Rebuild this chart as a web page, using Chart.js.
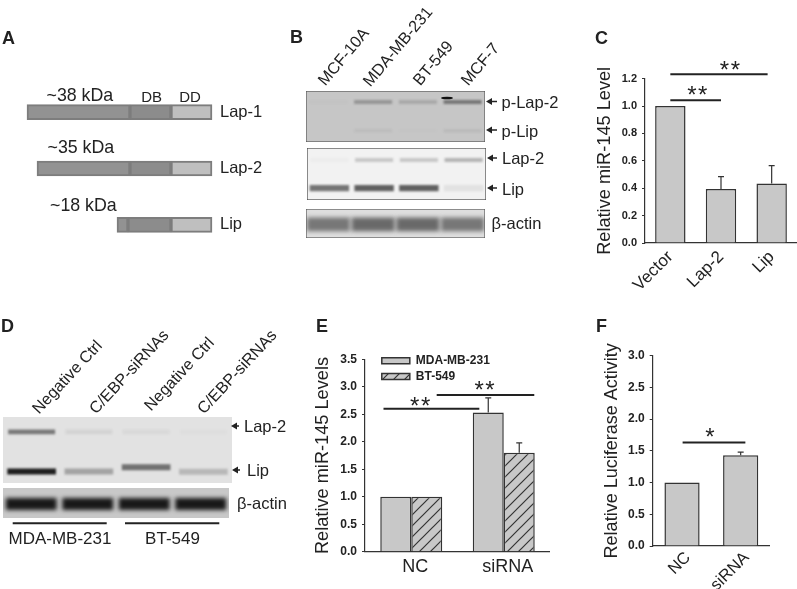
<!DOCTYPE html>
<html>
<head>
<meta charset="utf-8">
<script src="https://cdn.jsdelivr.net/npm/chart.js@4/dist/chart.umd.js"></script>
<style>
html, body { margin: 0; padding: 0; background: #fff; }
#fig { position: relative; width: 797px; height: 589px; overflow: hidden; font-family: "Liberation Sans", Arial, sans-serif; color: #222; }
#fig canvas, #fig svg { position: absolute; }
#fig span { position: absolute; white-space: nowrap; transform: translateY(-50%); }
</style>
</head>
<body>
<div id="fig"></div>
<script>
// panel A, domain boundaries along the protein
const aIsoforms = ['Lap-1', 'Lap-2', 'Lip'];
const aNterm = [[27, 130], [37, 130], [117, 128]];
const aDB = [[130, 171], [130, 171], [128, 171]];
const aDD = [[171, 212], [171, 212], [171, 212]];

// panel B, band intensity per lane and migration position
const bLanes = ['MCF-10A', 'MDA-MB-231', 'BT-549', 'MCF-7'];
const bPLap2 = [0.02, 0.3, 0.18, 0.5];
const bPLip = [0.0, 0.06, 0.01, 0.08];
const bLap2 = [0.03, 0.22, 0.22, 0.32];
const bLip = [0.62, 0.72, 0.72, 0.08];
const bActin = [0.6, 0.68, 0.68, 0.6];

// panel C
const cCategories = ['Vector', 'Lap-2', 'Lip'];
const cValues = [1.0, 0.395, 0.435];
const cErrors = [0, 0.09, 0.13];
const cSigLines = [[0, 1, 1.042], [0, 1.92, 1.232]];
const cStars = [[0.547, 1.103, '**'], [1.19, 1.288, '**']];

// panel D
const dLanes = ['Negative Ctrl', 'C/EBP-siRNAs', 'Negative Ctrl', 'C/EBP-siRNAs'];
const dLap2 = [0.55, 0.07, 0.05, 0.02];
const dLip = [0.95, 0.3, 0.55, 0.2];
const dLipPos = [0.175, 0.175, 0.24, 0.17];
const dActin = [0.95, 0.95, 0.95, 0.95];

// panel E
const eCategories = ['NC', 'siRNA'];
const eMda = [1.0, 2.53];
const eBt = [1.0, 1.8];
const eMdaErrors = [0, 0.27];
const eBtErrors = [0, 0.18];
const eSigLines = [[-0.3, 0.736, 2.6], [0.275, 1.33, 2.85]];
const eStars = [[0.105, 2.72, '**'], [0.8, 3.0, '**']];

// panel F
const fCategories = ['NC', 'siRNA'];
const fValues = [1.0, 1.43];
const fErrors = [0, 0.05];
const fSigLines = [[0.01, 1.08, 1.63]];
const fStars = [[0.49, 1.77, '*']];

const FONT = '"Liberation Sans", Arial, sans-serif';
Chart.defaults.font.family = FONT;
Chart.defaults.color = '#222';
Chart.defaults.animation = false;
Chart.defaults.responsive = false;
Chart.defaults.devicePixelRatio = 1;
Chart.defaults.plugins.legend.display = false;
Chart.defaults.plugins.tooltip.enabled = false;

const fig = document.getElementById('fig');

function addCanvas(left, top, w, h) {
    const c = document.createElement('canvas');
    c.width = w;
    c.height = h;
    c.style.left = left + 'px';
    c.style.top = top + 'px';
    fig.appendChild(c);
    return c;
}

function addText(text, x, y, size, opts) {
    const s = document.createElement('span');
    s.textContent = text;
    s.style.left = x + 'px';
    s.style.top = y + 'px';
    s.style.fontSize = size + 'px';
    if (opts && opts.bold) s.style.fontWeight = 'bold';
    if (opts && opts.center) s.style.transform = 'translate(-50%,-50%)';
    if (opts && opts.angle) {
        s.style.transformOrigin = '0 50%';
        s.style.transform = `translateY(-50%) rotate(${opts.angle}deg)`;
    }
    fig.appendChild(s);
}

// error bars and significance lines, in data units of the chart scales
const annotate = {
    id: 'annotate',
    afterDatasetsDraw(chart, args, opts) {
        const { ctx } = chart;
        const xs = chart.scales.x;
        const ys = chart.scales.y;
        ctx.save();
        ctx.strokeStyle = '#333';
        ctx.lineWidth = 1.2;
        chart.data.datasets.forEach((ds, i) => {
            if (!ds.errors) return;
            chart.getDatasetMeta(i).data.forEach((bar, j) => {
                if (!ds.errors[j]) return;
                const top = ys.getPixelForValue(ds.data[j] + ds.errors[j]);
                ctx.beginPath();
                ctx.moveTo(bar.x, bar.y);
                ctx.lineTo(bar.x, top);
                ctx.moveTo(bar.x - 3, top);
                ctx.lineTo(bar.x + 3, top);
                ctx.stroke();
            });
        });
        ctx.strokeStyle = '#222';
        ctx.lineWidth = 2;
        (opts.lines || []).forEach((l) => {
            const y = ys.getPixelForValue(l[2]);
            ctx.beginPath();
            ctx.moveTo(xs.getPixelForValue(l[0]), y);
            ctx.lineTo(xs.getPixelForValue(l[1]), y);
            ctx.stroke();
        });
        ctx.fillStyle = '#222';
        ctx.textAlign = 'center';
        ctx.textBaseline = 'alphabetic';
        ctx.font = '24px ' + FONT;
        ctx.letterSpacing = '1.5px';
        (opts.stars || []).forEach((s) => {
            ctx.fillText(s[2], xs.getPixelForValue(s[0]), ys.getPixelForValue(s[1]) + 11.5);
        });
        ctx.restore();
    },
};

function barChart(cfg) {
    const { box, area, titleText, maxY, step, rotation, tickFont, labelFont } = cfg;
    const canvas = addCanvas(box[0], box[1], box[2], box[3]);
    return new Chart(canvas, {
        type: 'bar',
        data: { labels: cfg.labels, datasets: cfg.datasets },
        options: {
            layout: { autoPadding: false, padding: { top: area.top - box[1] } },
            plugins: {
                annotate: { lines: cfg.lines, stars: cfg.stars },
                legend: cfg.legend || { display: false },
            },
            scales: {
                x: {
                    grid: { display: false, drawTicks: false },
                    border: { color: '#333', width: 1.2 },
                    ticks: {
                        autoSkip: false,
                        minRotation: rotation,
                        maxRotation: rotation,
                        padding: cfg.xPad,
                        labelOffset: cfg.xOffset || 0,
                        color: '#222',
                        font: { size: labelFont },
                    },
                    afterFit: (s) => { s.height = box[1] + box[3] - area.bottom; },
                },
                y: {
                    min: 0,
                    max: maxY,
                    ticks: {
                        stepSize: step,
                        padding: 5,
                        color: '#222',
                        font: { size: tickFont, weight: 'bold' },
                        callback: (v) => v.toFixed(1),
                    },
                    grid: { drawOnChartArea: false, tickLength: 3, color: '#333' },
                    border: { color: '#333', width: 1.2 },
                    title: {
                        display: true,
                        text: titleText,
                        color: '#222',
                        padding: 0,
                        font: { size: cfg.titleFont },
                    },
                    afterFit: (s) => { s.width = area.left - box[0]; },
                },
            },
        },
        plugins: [annotate].concat(cfg.plugins || []),
    });
}

// western blot strip: bands are floating bars, blurred a little
const blotPaint = {
    id: 'blotPaint',
    beforeDraw(chart, args, opts) {
        const { ctx, chartArea: a } = chart;
        ctx.save();
        ctx.fillStyle = opts.bg;
        ctx.fillRect(a.left, a.top, a.width, a.height);
        ctx.restore();
    },
    beforeDatasetsDraw(chart, args, opts) {
        chart.ctx.save();
        chart.ctx.filter = 'blur(' + opts.blur + 'px)';
    },
    afterDatasetsDraw(chart, args, opts) {
        const { ctx, chartArea: a } = chart;
        ctx.restore();
        if (!opts.frame) return;
        ctx.save();
        ctx.strokeStyle = opts.frame;
        ctx.lineWidth = 1.2;
        ctx.strokeRect(a.left, a.top, a.width, a.height);
        ctx.restore();
    },
};

function band(levels, pos, half, shade, lanePct) {
    return {
        data: levels.map((v, i) => {
            const p = Array.isArray(pos) ? pos[i] : pos;
            return [p - half, p + half];
        }),
        backgroundColor: levels.map((v) => `rgba(${shade},${shade},${shade},${v})`),
        barPercentage: lanePct,
        categoryPercentage: 1,
        grouped: false,
    };
}

function blotChart(cfg) {
    const { box, bg, frame, blur, lanes, bands } = cfg;
    const canvas = addCanvas(box[0], box[1], box[2], box[3]);
    return new Chart(canvas, {
        type: 'bar',
        data: { labels: lanes, datasets: bands },
        options: {
            layout: { autoPadding: false },
            plugins: { blotPaint: { bg, frame, blur } },
            scales: {
                x: { display: false },
                y: { display: false, min: 0, max: 1 },
            },
        },
        plugins: [blotPaint],
    });
}

// hatch for the BT-549 series
function hatchPattern() {
    const n = 11;
    const t = document.createElement('canvas');
    t.width = n;
    t.height = n;
    const g = t.getContext('2d');
    g.fillStyle = '#c8c8c8';
    g.fillRect(0, 0, n, n);
    g.strokeStyle = '#333';
    g.lineWidth = 1.2;
    g.beginPath();
    g.moveTo(-2, n + 2);
    g.lineTo(n + 2, -2);
    g.moveTo(-2, 2);
    g.lineTo(2, -2);
    g.moveTo(n - 2, n + 2);
    g.lineTo(n + 2, n - 2);
    g.stroke();
    return g.createPattern(t, 'repeat');
}

/* ---------- panel A ---------- */
const segment = (data, fill) => ({
    data,
    backgroundColor: fill,
    borderColor: '#7d7d7d',
    borderWidth: 2,
    borderSkipped: false,
    barThickness: 15,
    grouped: false,
});
new Chart(addCanvas(0, 84, 280, 169), {
    type: 'bar',
    data: {
        labels: aIsoforms,
        datasets: [segment(aNterm, '#929292'), segment(aDB, '#8c8c8c'), segment(aDD, '#bfbfbf')],
    },
    options: {
        indexAxis: 'y',
        layout: { autoPadding: false },
        scales: {
            x: { display: false, min: 0, max: 215 },
            y: {
                position: 'right',
                grid: { display: false, drawTicks: false },
                border: { display: false },
                ticks: { padding: 5, color: '#222', font: { size: 16.5 } },
                afterFit: (s) => {
                    s.width = 65;
                    s.paddingTop = 0;
                    s.paddingBottom = 0;
                },
            },
        },
    },
});

/* ---------- panel B ---------- */
blotChart({
    box: [306, 91, 179, 51], bg: '#c6c6c6', frame: '#555', blur: 1.2,
    lanes: bLanes,
    bands: [band(bPLap2, 0.785, 0.04, 40, 0.85), band(bPLip, 0.22, 0.03, 40, 0.85)],
});
blotChart({
    box: [307, 148, 179, 52], bg: '#f2f2f2', frame: '#444', blur: 1.2,
    lanes: bLanes,
    bands: [band(bLap2, 0.77, 0.04, 50, 0.85), band(bLip, 0.23, 0.06, 40, 0.88)],
});
blotChart({
    box: [306, 209, 179, 29], bg: '#dedede', frame: '#555', blur: 2,
    lanes: bLanes,
    bands: [band(bActin, 0.47, 0.24, 50, 0.96)],
});

/* ---------- panel C ---------- */
barChart({
    box: [594, 40, 203, 270],
    area: { left: 645, top: 78.7, bottom: 243 },
    labels: cCategories,
    datasets: [{
        data: cValues, errors: cErrors,
        backgroundColor: '#c8c8c8', borderColor: '#333', borderWidth: 1.5,
        barPercentage: 0.6, categoryPercentage: 1,
    }],
    titleText: 'Relative miR-145 Level', titleFont: 18.2,
    maxY: 1.2, step: 0.2, rotation: 45, tickFont: 11, labelFont: 17, xPad: 4,
    lines: cSigLines, stars: cStars,
});

/* ---------- panel D ---------- */
blotChart({
    box: [3, 417, 229, 66], bg: '#e2e2e2', blur: 1.2,
    lanes: dLanes,
    bands: [band(dLap2, 0.775, 0.035, 35, 0.82), band(dLip, dLipPos, 0.045, 20, 0.85)],
});
blotChart({
    box: [3, 488, 226, 30], bg: '#c8c8c8', blur: 2,
    lanes: dLanes,
    bands: [band(dActin, 0.47, 0.2, 15, 0.9)],
});

/* ---------- panel E ---------- */
const hatch = hatchPattern();
const legendMover = {
    id: 'legendMover',
    afterLayout(chart) {
        chart.legend.left = 66;
        chart.legend.top = 11;
    },
};
barChart({
    box: [312, 340, 238, 249],
    area: { left: 365, top: 359.3, bottom: 551.7 },
    labels: eCategories,
    datasets: [
        { label: 'MDA-MB-231', data: eMda, errors: eMdaErrors, backgroundColor: '#c8c8c8', borderColor: '#333', borderWidth: 1.5, barPercentage: 1, categoryPercentage: 0.67 },
        { label: 'BT-549', data: eBt, errors: eBtErrors, backgroundColor: hatch, borderColor: '#333', borderWidth: 1.5, barPercentage: 1, categoryPercentage: 0.67 },
    ],
    titleText: 'Relative miR-145 Levels', titleFont: 18.2,
    maxY: 3.5, step: 0.5, rotation: 0, tickFont: 12, labelFont: 18, xPad: 5, xOffset: 4,
    lines: eSigLines, stars: eStars,
    legend: {
        display: true,
        position: 'chartArea',
        align: 'start',
        labels: { boxWidth: 28, boxHeight: 6, padding: 3.8, color: '#222', font: { size: 12, weight: 'bold' } },
    },
    plugins: [legendMover],
});

/* ---------- panel F ---------- */
barChart({
    box: [601, 330, 169, 259],
    area: { left: 652.7, top: 355.7, bottom: 546 },
    labels: fCategories,
    datasets: [{
        data: fValues, errors: fErrors,
        backgroundColor: '#c8c8c8', borderColor: '#333', borderWidth: 1.5,
        barPercentage: 0.6, categoryPercentage: 1,
    }],
    titleText: 'Relative Luciferase Activity', titleFont: 18,
    maxY: 3.0, step: 0.5, rotation: 45, tickFont: 12, labelFont: 16.5, xPad: 2, xOffset: 6,
    lines: fSigLines, stars: fStars,
});

/* ---------- arrows, rules and the stray spot on the first blot ---------- */
const NS = 'http://www.w3.org/2000/svg';
const svg = document.createElementNS(NS, 'svg');
svg.setAttribute('width', 797);
svg.setAttribute('height', 589);
svg.style.left = '0';
svg.style.top = '0';
fig.appendChild(svg);
function svgEl(tag, attrs) {
    const e = document.createElementNS(NS, tag);
    Object.keys(attrs).forEach((k) => e.setAttribute(k, attrs[k]));
    svg.appendChild(e);
}
function arrow(x0, x1, y) {
    svgEl('line', { x1: x0 + 3, y1: y, x2: x1, y2: y, stroke: '#222', 'stroke-width': 1.5 });
    svgEl('polygon', { points: `${x0},${y} ${x0 + 6},${y - 3.5} ${x0 + 6},${y + 3.5}`, fill: '#222' });
}
arrow(486, 497, 101.5);
arrow(486, 497, 130);
arrow(487, 497, 158);
arrow(487, 497, 188);
arrow(231, 239, 426);
arrow(232, 240, 470);
svgEl('line', { x1: 12.7, y1: 523.3, x2: 106.7, y2: 523.3, stroke: '#222', 'stroke-width': 2 });
svgEl('line', { x1: 125, y1: 523.3, x2: 219.3, y2: 523.3, stroke: '#222', 'stroke-width': 2 });
svgEl('ellipse', { cx: 447, cy: 98, rx: 6, ry: 1.3, fill: '#111' });

/* ---------- text that is not on an axis ---------- */
[['A', 2, 38], ['B', 290, 37], ['C', 595, 38], ['D', 1, 326], ['E', 316, 326], ['F', 596, 326]]
    .forEach((p) => addText(p[0], p[1], p[2], 18, { bold: true }));
addText('~38 kDa', 46.5, 95, 17.8);
addText('~35 kDa', 47.5, 147, 17.8);
addText('~18 kDa', 50, 205, 17.8);
addText('DB', 151.7, 96, 15, { center: true });
addText('DD', 190, 96, 15, { center: true });
addText('p-Lap-2', 501.5, 101.5, 16.5);
addText('p-Lip', 501.5, 130.5, 16.5);
addText('Lap-2', 502, 158, 16.5);
addText('Lip', 502, 189, 16.5);
addText('β-actin', 491.5, 222.5, 16.5);
addText('Lap-2', 244, 425.5, 16.5);
addText('Lip', 247, 470, 16.5);
addText('β-actin', 237, 502.5, 16.5);
addText('MDA-MB-231', 60, 539, 17, { center: true });
addText('BT-549', 172.5, 539, 17, { center: true });

// lane captions above the blots
const bLaneStarts = [[321, 83], [366, 84], [416, 83], [464, 83]];
const dLaneStarts = [[35, 411], [92, 411], [147, 408], [200, 411]];
bLanes.forEach((t, i) => addText(t, bLaneStarts[i][0], bLaneStarts[i][1], 16.2, { angle: -50 }));
dLanes.forEach((t, i) => addText(t, dLaneStarts[i][0], dLaneStarts[i][1], 16.2, { angle: -47 }));
</script>
</body>
</html>
